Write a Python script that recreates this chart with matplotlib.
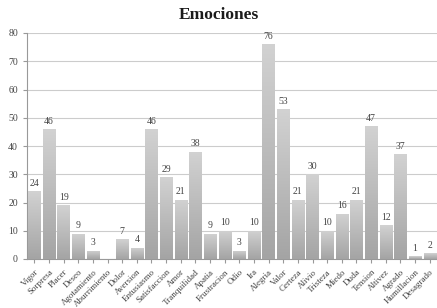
import numpy as np
import matplotlib
matplotlib.use("Agg")
import matplotlib.pyplot as plt
from matplotlib.colors import LinearSegmentedColormap

categories = ['Vigor', 'Sorpresa', 'Placer', 'Deseo', 'Agotamiento', 'Aburrimiento',
              'Dolor', 'Aversion', 'Entusiasmo', 'Satisfaccion', 'Amor', 'Tranquilidad',
              'Apatia', 'Frustracion', 'Odio', 'Ira', 'Alegria', 'Valor', 'Certeza',
              'Alivio', 'Tristeza', 'Miedo', 'Duda', 'Tension', 'Altivez', 'Agrado',
              'Humillacion', 'Desagrado']
values = [24, 46, 19, 9, 3, 0, 7, 4, 46, 29, 21, 38, 9, 10, 3, 10, 76, 53, 21,
          30, 10, 16, 21, 47, 12, 37, 1, 2]
yticks = [0, 10, 20, 30, 40, 50, 60, 70, 80]

plt.rcParams['font.family'] = ['Liberation Serif', 'DejaVu Serif']

fig = plt.figure(figsize=(4.37, 3.08), dpi=100)
ax = fig.add_axes([27 / 437, 49 / 308, 410 / 437, 226 / 308])

x = np.arange(len(categories))
bars = ax.bar(x, values, width=0.84, color='none', edgecolor='none', zorder=3)

# gray gradient inside each bar, lighter on top
cmap = LinearSegmentedColormap.from_list('grey', ['#a4a4a4', '#d2d2d2'])
grad = np.linspace(0, 1, 256).reshape(-1, 1)
for b, v in zip(bars, values):
    if v <= 0:
        continue
    x0 = b.get_x()
    w = b.get_width()
    im = ax.imshow(grad, cmap=cmap, aspect='auto', origin='lower',
                   extent=[x0, x0 + w, 0, v], zorder=3)
    im.set_clip_path(b)
    ax.text(x0 + w / 2, v + 1.2, str(v), ha='center', va='bottom',
            fontsize=7, color='#444444', zorder=4)

ax.set_xlim(-0.5, len(categories) - 0.5)
ax.set_ylim(0, 80)
ax.set_yticks(yticks)
ax.yaxis.grid(True, color='#cccccc', linewidth=0.8, zorder=0)
ax.set_axisbelow(True)

ax.set_xticks(x)
ax.set_xticklabels(categories, rotation=45, ha='right', rotation_mode='anchor',
                   fontsize=6.5, color='#444444')
ax.tick_params(axis='y', labelsize=7, labelcolor='#444444', length=3, color='#999999')
ax.tick_params(axis='x', length=3, color='#999999')

for s in ['top', 'right']:
    ax.spines[s].set_visible(False)
ax.spines['left'].set_color('#999999')
ax.spines['bottom'].set_color('#999999')

fig.text(0.5, 0.95, 'Emociones', ha='center', va='center', fontsize=12.5,
         fontweight='bold', color='#1a1a1a')

fig.savefig('out.png', dpi=100)
